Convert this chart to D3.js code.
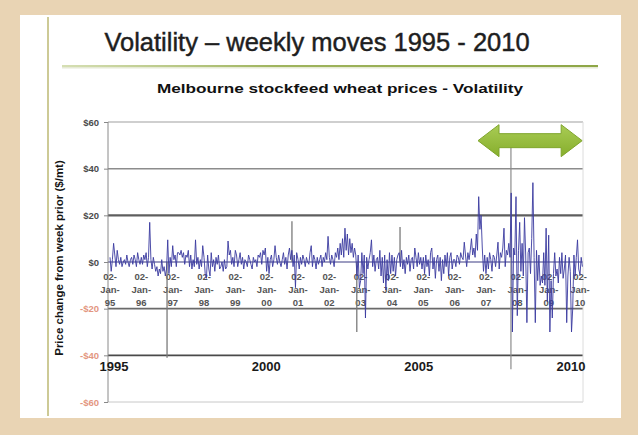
<!DOCTYPE html>
<html><head><meta charset="utf-8">
<script src="https://cdn.jsdelivr.net/npm/d3@7"></script>
<style>html,body{margin:0;padding:0;background:#E9D4B4;} svg{display:block;font-family:"Liberation Sans",Arial,sans-serif;}</style>
</head><body><svg id="c" width="638" height="435"></svg>
<script>
// ---- text ----
const titleText = "Volatility – weekly moves 1995 - 2010";
const subtitleText = "Melbourne stockfeed wheat prices - Volatility";
const yAxisTitle = "Price change from week prior ($/mt)";
// ---- axes ----
const yTicks = [60, 40, 20, 0, -20, -40, -60];
const yTickLabels = ["$60", "$40", "$20", "$0", "-$20", "-$40", "-$60"];
const categoryYears = [1995,1996,1997,1998,1999,2000,2001,2002,2003,2004,2005,2006,2007,2008,2009,2010];
const categoryLabels = ["95","96","97","98","99","00","01","02","03","04","05","06","07","08","09","10"];
const yearTicks = [1995, 2000, 2005, 2010];
// ---- weekly price change ($/mt), sampled fortnightly from 2 Jan each year ----
const v1995 = [2,-4,1,8,3,-2,5,1,-1,2,-2,0,1,-1,3,0,-2,1,2,-1,3,1,-2,4,1,-1];
const v1996 = [2,-1,3,1,4,-2,2,17,1,-3,2,-1,-4,-2,-6,-3,-5,1,-4,-2,-6,-3,9.5,-5,2,-2];
const v1997 = [7,1,3,-2,4,4,3,5,2,4,-1,3,2,5,-2,3,-3,1,-2,9.5,-1,2,-3,1,-2,7];
const v1998 = [2,-5,-7,3,-3,-6,4,-2,1,-4,2,-1,3,-3,-2,0,-4,1,-3,-2,9,3,5,-1,2,-2];
const v1999 = [5,3,-2,1,4,-1,2,-3,1,0,-2,3,1,-1,-3,2,0,1,-2,3,2,4,-1,5,3,6];
const v2000 = [-4,2,-5,1,3,-2,1,7,2,-1,3,0,-2,1,4,-1,2,-3,3,6,1,5,-2,3,-11,4];
const v2001 = [1,-3,2,-1,3,1,-2,2,0,-1,4,7,-2,3,1,-3,2,-1,1,3,-2,2,0,4,1,11];
const v2002 = [2,-1,3,1,-2,4,2,6,1,8,3,10,2,14.5,5,12,3,10,4,8,2,6,3,-6,3,-11];
const v2003 = [-8,4,-5,3,-24,2,-3,1,4,9.5,-2,3,-4,1,2,-3,5,-6,2,-9,3,-12,1,-8,4,-5];
const v2004 = [3,-4,2,-6,1,3,4,-2,5,-3,1,-5,2,-1,3,-4,1,2,-3,6,2,-2,4,-1,2,-3];
const v2005 = [2,-5,3,-2,1,-6,4,6,-3,2,-7,1,3,-4,2,-8,1,-5,3,-2,4,-6,2,4,-3,1];
const v2006 = [1,-2,3,2,-1,4,2,1,8.5,3,-2,4,1,5,10,3,6,2,12,5,28,14,20,6,-4,3];
const v2007 = [-5,2,-3,4,1,-4,3,2,-2,3,8.5,-3,4,2,6,14.5,-2,5,3,8,2,29.6,-30,6,3,28];
const v2008 = [-23,5,17,-4,8,-6,19,3,-26,4,6,-5,10,34,2,-26,5,-8,3,-10,-6,-9,4,-10,14.5,-17];
const v2009 = [11.5,-30,-8,-24,-5,4,-6,-3,-9,2,-5,4,-7,-3,3,-26,-6,2,-4,-30,-20,3,-6,2,9.5,-3];
const v2010 = [-5.5,2,-2];
const yearSeries = [v1995,v1996,v1997,v1998,v1999,v2000,v2001,v2002,v2003,v2004,v2005,v2006,v2007,v2008,v2009,v2010];
// ---- grey overlay spikes ----
const grayDates = ["1996-10-28","2000-10-23","2002-11-18","2004-04-05"];
const grayValues = [-41, 17.5, -30, 15];
const markerDate = "2007-10-20";
const markerRange = [52, -46];
const arrowFrom = "2006-10-01", arrowTo = "2010-01-27", arrowLevel = 52;

const svg = d3.select("#c");
const parse = d3.timeParse("%Y-%m-%d");
const x = d3.scaleTime().domain([new Date(1995,0,2), new Date(2010,0,2)]).range([110, 580]);
const y = d3.scaleLinear().domain([-60, 60]).range([402, 122]);
const xYear = d3.scaleLinear().domain([1995, 2010]).range([114, 571]);
const plotL = 108, plotR = 583;

// background panel
svg.append("rect").attr("x",20).attr("y",15).attr("width",601).attr("height",403).attr("fill","#ffffff");
svg.append("line").attr("x1",48).attr("x2",48).attr("y1",17).attr("y2",416).attr("stroke","#bdb873").attr("stroke-width",1.5);

const defs = svg.append("defs");
const g1 = defs.append("linearGradient").attr("id","gl");
g1.append("stop").attr("offset","0").attr("stop-color","#d6dfb4");
g1.append("stop").attr("offset","0.4").attr("stop-color","#9fb45e");
g1.append("stop").attr("offset","1").attr("stop-color","#8ea647");
const g2 = defs.append("linearGradient").attr("id","ga").attr("x1",0).attr("x2",0).attr("y1",0).attr("y2",1);
g2.append("stop").attr("offset","0").attr("stop-color","#a9cc55");
g2.append("stop").attr("offset","1").attr("stop-color","#86ae2c");

// title
svg.append("text").attr("x",317).attr("y",51).attr("text-anchor","middle")
  .attr("font-size",25.5).attr("fill","#1e1e1e").attr("stroke","#1e1e1e").attr("stroke-width",0.45)
  .text(titleText);
svg.append("rect").attr("x",62).attr("y",65).attr("width",536).attr("height",2).attr("fill","url(#gl)");
svg.append("rect").attr("x",62).attr("y",67).attr("width",536).attr("height",1.5).attr("fill","#e6ead6");
svg.append("text").attr("x",340).attr("y",93).attr("text-anchor","middle")
  .attr("font-size",13).attr("font-weight","bold").attr("fill","#111")
  .attr("textLength",366).attr("lengthAdjust","spacingAndGlyphs").text(subtitleText);

// gridlines
const gridStyle = {"60":["#a0a0a0",1.2],"40":["#8c8c8c",1.5],"20":["#5e5e5e",2.2],"0":["#3c3c84",1.2],"-20":["#6a6a6a",1.6],"-40":["#4a4a4a",1.6],"-60":["#c8c8c8",1]};
yTicks.forEach(t=>{
  const s = gridStyle[String(t)];
  svg.append("line").attr("x1",plotL).attr("x2",plotR).attr("y1",y(t)).attr("y2",y(t))
    .attr("stroke",s[0]).attr("stroke-width",s[1]);
});
svg.append("line").attr("x1",plotL).attr("x2",plotL).attr("y1",y(60)).attr("y2",y(-60)).attr("stroke","#8a8a8a").attr("stroke-width",1);
svg.append("line").attr("x1",plotR).attr("x2",plotR).attr("y1",y(60)).attr("y2",y(-60)).attr("stroke","#dcdcdc").attr("stroke-width",1);

// y axis labels
const yAxis = d3.axisLeft(y).tickValues(yTicks).tickSize(4).tickPadding(5)
  .tickFormat((d,i)=>yTickLabels[i]);
const ya = svg.append("g").attr("transform",`translate(${plotL},0)`).call(yAxis);
ya.select(".domain").remove();
ya.selectAll("line").attr("stroke","#888");
ya.selectAll("text").attr("font-size",9.5).attr("font-weight","bold")
  .attr("font-family","Liberation Sans, Arial, sans-serif")
  .attr("fill",d=>d<0?"#e3967f":"#4a4a4a");

svg.append("text").attr("transform",`translate(63,258) rotate(-90)`).attr("text-anchor","middle")
  .attr("font-size",11.5).attr("font-weight","bold").attr("fill","#151515").text(yAxisTitle);

// category labels
const cat = svg.append("g");
categoryYears.forEach((yr,i)=>{
  const cx = x(new Date(yr,0,2));
  const t = cat.append("text").attr("text-anchor","middle").attr("font-size",9.5)
    .attr("font-weight","bold").attr("fill","#555");
  ["02-","Jan-",categoryLabels[i]].forEach((s,k)=>{
    t.append("tspan").attr("x",cx).attr("y",280+k*13).text(s);
  });
});

// year labels (secondary axis)
yearTicks.forEach(yr=>{
  svg.append("text").attr("x",xYear(yr)).attr("y",371).attr("text-anchor","middle")
    .attr("font-size",13).attr("font-weight","bold").attr("fill","#1a1a1a").text(String(yr));
});

// grey overlay
svg.append("line").attr("x1",x(parse(markerDate))).attr("x2",x(parse(markerDate)))
  .attr("y1",y(markerRange[0])).attr("y2",y(markerRange[1])).attr("stroke","#8c8c8c").attr("stroke-width",1.2);
grayDates.forEach((d,i)=>{
  svg.append("line").attr("x1",x(parse(d))).attr("x2",x(parse(d)))
    .attr("y1",y(0)).attr("y2",y(grayValues[i])).attr("stroke","#7a7a7a").attr("stroke-width",1.3);
});

// series
const series = [];
yearSeries.forEach((arr,k)=>{
  arr.forEach((v,i)=>series.push({date:new Date(1995+k,0,2+i*14), value:v}));
});
const line = d3.line().x(d=>x(d.date)).y(d=>y(d.value));
svg.append("path").datum(series).attr("d",line).attr("fill","none")
  .attr("stroke","#3b3ba0").attr("stroke-width",1).attr("stroke-opacity",0.9);

// arrow
const ax0 = x(parse(arrowFrom)), ax1 = x(parse(arrowTo)), ay = y(arrowLevel);
const hl = 21, hh = 16, sh = 7;
const pts = [[ax0,ay],[ax0+hl,ay-hh],[ax0+hl,ay-sh],[ax1-hl,ay-sh],[ax1-hl,ay-hh],[ax1,ay],[ax1-hl,ay+hh],[ax1-hl,ay+sh],[ax0+hl,ay+sh],[ax0+hl,ay+hh]];
svg.append("path").attr("d","M"+pts.map(p=>p.join(",")).join("L")+"Z")
  .attr("fill","url(#ga)").attr("stroke","#7fa52c").attr("stroke-width",1);
</script></body></html>
